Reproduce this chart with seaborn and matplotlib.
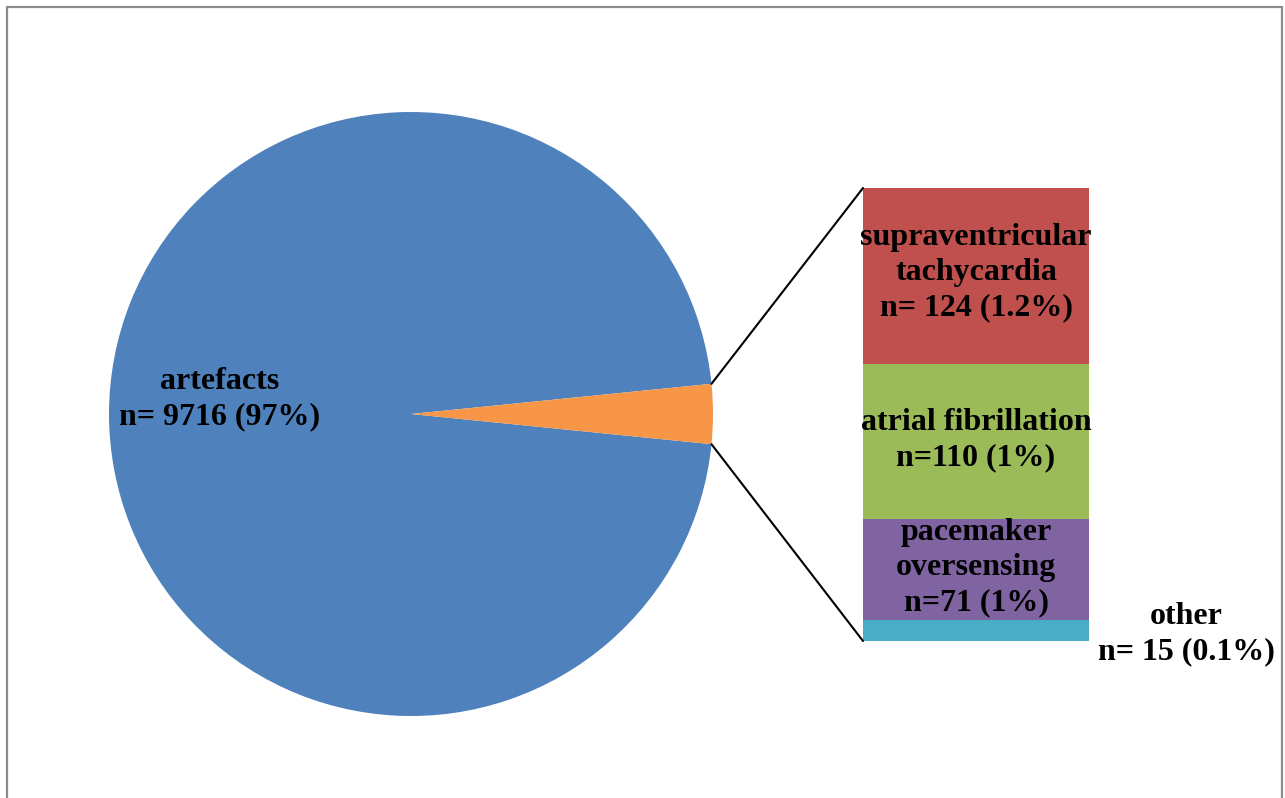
import numpy as np
import matplotlib
matplotlib.use("Agg")
import matplotlib.pyplot as plt
from matplotlib.lines import Line2D
import seaborn as sns

# Counts by rhythm category
main_labels = ["artefacts", "arrhythmias"]
main_counts = [9716, 320]

detail_labels = [
    "supraventricular\ntachycardia\nn= 124 (1.2%)",
    "atrial fibrillation\nn=110 (1%)",
    "pacemaker\noversensing\nn=71 (1%)",
    "other\nn= 15 (0.1%)",
]
detail_counts = [124, 110, 71, 15]
artefact_label = "artefacts\nn= 9716 (97%)"

main_colors = ["#4F81BD", "#F79646"]
detail_colors = ["#C0504D", "#9BBB59", "#8064A2", "#4BACC6"]

sns.set_style("white")
plt.rcParams["font.family"] = ["Liberation Serif", "DejaVu Serif"]

W, H = 1285, 798
fig = plt.figure(figsize=(W / 100, H / 100), dpi=100)
ax = fig.add_axes([0, 0, 1, 1])

# Pie of artefacts vs. the arrhythmia group, the small slice centred on the right
cx, cy, r = 411, 414, 302
total = sum(main_counts)
half = 180.0 * main_counts[1] / total
ax.pie(main_counts, colors=main_colors, center=(cx, cy), radius=r,
       startangle=half, counterclock=True, frame=True,
       wedgeprops=dict(linewidth=0))
ax.set_xlim(0, W)
ax.set_ylim(H, 0)
ax.set_aspect("auto")
ax.axis("off")

# Stacked bar breaking down the small slice
bar_x0, bar_x1 = 863, 1089
bar_top, bar_bottom = 188, 641
scale = (bar_bottom - bar_top) / sum(detail_counts)
heights = np.array(detail_counts) * scale
bottoms = bar_top + np.concatenate([[0], np.cumsum(heights)[:-1]])
ax.bar([(bar_x0 + bar_x1) / 2] * len(heights), heights, bottom=bottoms,
       width=bar_x1 - bar_x0, color=detail_colors, linewidth=0)

# Connector lines from the slice edges to the bar corners
th = np.deg2rad(half)
px = cx + r * np.cos(th)
ax.add_line(Line2D([px, bar_x0], [cy - r * np.sin(th), bar_top],
                   color="black", lw=1.5))
ax.add_line(Line2D([px, bar_x0], [cy + r * np.sin(th), bar_bottom],
                   color="black", lw=1.5))

fs = 23
txt = dict(fontsize=fs, fontweight="bold", ha="center", va="center",
           linespacing=1.27, color="black")
ax.text(220, 399, artefact_label, **txt)
nudges = [-3, -1, -2]
for lab, b, h, d in zip(detail_labels[:3], bottoms[:3], heights[:3], nudges):
    ax.text((bar_x0 + bar_x1) / 2, b + h / 2 + d, lab, **txt)
ax.text(1186, 634, detail_labels[3], **txt)

# Grey chart-area border (open at the bottom)
for xs, ys in [([7, 7], [H + 5, 7]), ([7, 1282], [7, 7]), ([1282, 1282], [7, H + 5])]:
    fig.add_artist(Line2D(np.array(xs) / W, 1 - np.array(ys) / H,
                          color="#8c8c8c", lw=1.6, transform=fig.transFigure))

fig.savefig("out.png", dpi=100)
